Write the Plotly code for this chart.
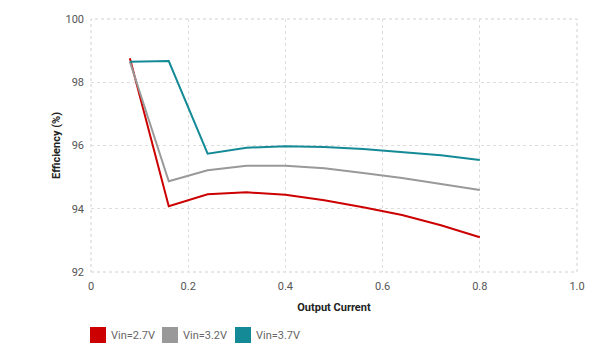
import plotly.graph_objects as go

x_current = [0.08, 0.16, 0.24, 0.32, 0.40, 0.48, 0.56, 0.64, 0.72, 0.80]
eff_27 = [98.76, 94.08, 94.46, 94.52, 94.44, 94.27, 94.05, 93.80, 93.48, 93.10]
eff_32 = [98.65, 94.87, 95.22, 95.36, 95.36, 95.28, 95.13, 94.97, 94.78, 94.59]
eff_37 = [98.65, 98.67, 95.74, 95.93, 95.98, 95.95, 95.89, 95.80, 95.69, 95.54]
names = ["Vin=2.7V", "Vin=3.2V", "Vin=3.7V"]
colors = ["#cc0000", "#999999", "#138a96"]
x_ticks = [0, 0.2, 0.4, 0.6, 0.8, 1.0]
x_ticktext = ["0", "0.2", "0.4", "0.6", "0.8", "1.0"]
y_ticks = [92, 94, 96, 98, 100]

# page body has an 8px margin, so the figure is 8px smaller than the window
W, H = 586, 351
ML, MR, MT, MB = 83, 17, 11, 87
PW, PH = W - ML - MR, H - MT - MB

fig = go.Figure()
for ys, name, c in zip([eff_27, eff_32, eff_37], names, colors):
    fig.add_trace(go.Scatter(x=x_current, y=ys, mode="lines", name=name,
                             line=dict(color=c, width=2), showlegend=False))

axis_common = dict(showgrid=True, gridcolor="#dddddd", griddash="dot", gridwidth=1,
                   zeroline=False, showline=False, ticks="", automargin=False,
                   tickfont=dict(family="Roboto", size=11, color="#555555"))
fig.update_xaxes(range=[0, 1], tickvals=x_ticks, ticktext=x_ticktext,
                 ticklabelstandoff=6,
                 title=dict(text="<b>Output Current</b>", font=dict(family="Roboto", size=11, color="#222222"), standoff=11),
                 **axis_common)
fig.update_yaxes(range=[92, 100], tickvals=y_ticks, ticklabelstandoff=6,
                 title=dict(text="<b>Efficiency (%)</b>", font=dict(family="Roboto", size=11, color="#222222"), standoff=2),
                 **axis_common)

fig.add_shape(type="rect", xref="paper", yref="paper", x0=0, y0=0, x1=1, y1=1,
              line=dict(color="#d0d0d0", width=1, dash="dot"), layer="below")

# manual legend (square swatches + labels)
sq_left_px = [-1, 71, 144]
for i, (name, c) in enumerate(zip(names, colors)):
    fig.add_shape(type="rect", xref="paper", yref="paper",
                  x0=sq_left_px[i] / PW, x1=(sq_left_px[i] + 16) / PW,
                  y0=-(319 - (MT + PH)) / PH, y1=-(335 - (MT + PH)) / PH,
                  fillcolor=c, line=dict(color=c, width=0))
    fig.add_annotation(xref="paper", yref="paper", x=(sq_left_px[i] + 19) / PW,
                       y=-(327 - (MT + PH)) / PH, xanchor="left", yanchor="middle",
                       text=name, showarrow=False,
                       font=dict(family="Roboto", size=11, color="#666666"))

fig.update_layout(
    width=W, height=H,
    margin=dict(l=ML, r=MR, t=MT, b=MB),
    plot_bgcolor="white", paper_bgcolor="white",
    font=dict(family="Roboto", size=11, color="#555555"),
    showlegend=False,
)
fig.write_html("out.html")
